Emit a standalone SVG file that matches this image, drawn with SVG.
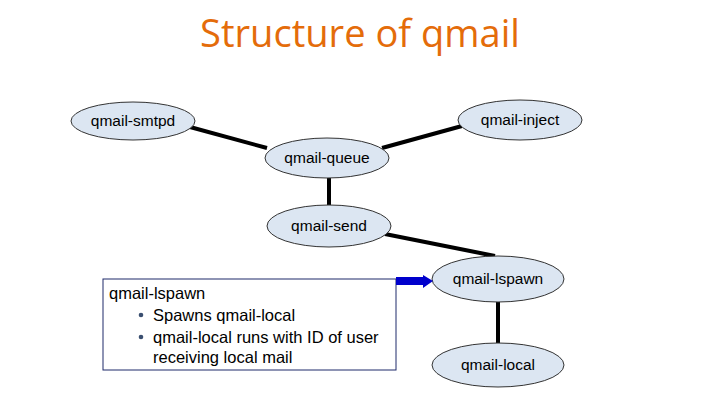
<svg xmlns="http://www.w3.org/2000/svg" width="720" height="405" viewBox="0 0 720 405">
<style>
.node ellipse{fill:#DCE6F2;stroke:#333;stroke-width:1}
.node text{font-family:"Liberation Sans",Arial,sans-serif;font-size:15.5px;fill:#000;text-anchor:middle}
.conn line{stroke:#000;stroke-width:4}
.box text{font-family:"Liberation Sans",Arial,sans-serif;font-size:16.5px;fill:#000}
</style>
<rect width="720" height="405" fill="#fff"/>
<text x="360" y="47" font-family="'Open Sans','Liberation Sans',sans-serif" font-size="38" fill="#E46C0A" text-anchor="middle" textLength="320" lengthAdjust="spacingAndGlyphs">Structure of qmail</text>
<g id="connectors" class="conn">
<line x1="190" y1="127" x2="267" y2="148"/>
<line x1="462" y1="126" x2="382" y2="148"/>
<line x1="329" y1="178" x2="329" y2="205"/>
<line x1="385" y1="234" x2="495" y2="256"/>
<line x1="498" y1="301" x2="498" y2="343"/>
</g>
<g id="qmail-smtpd" class="node"><ellipse cx="133" cy="121" rx="62" ry="19"/><text x="133" y="126">qmail-smtpd</text></g>
<g id="qmail-inject" class="node"><ellipse cx="520" cy="120" rx="62" ry="20"/><text x="520" y="125">qmail-inject</text></g>
<g id="qmail-queue" class="node"><ellipse cx="327" cy="158" rx="62" ry="20"/><text x="327" y="163">qmail-queue</text></g>
<g id="qmail-send" class="node"><ellipse cx="329" cy="226" rx="62" ry="21"/><text x="329" y="231">qmail-send</text></g>
<g id="qmail-lspawn" class="node"><ellipse cx="498" cy="279" rx="66" ry="23"/><text x="498" y="284">qmail-lspawn</text></g>
<g id="qmail-local" class="node"><ellipse cx="498" cy="365" rx="66" ry="22"/><text x="498" y="370">qmail-local</text></g>
<g id="note" class="box">
<rect x="103" y="279" width="293" height="91" fill="#fff" stroke="#1F2A6B" stroke-width="1"/>
<path d="M396 277 H423 V275 L433 281 L423 288 V285 H396 Z" fill="#0000CC"/>
<text x="109" y="299">qmail-lspawn</text>
<circle cx="141" cy="315" r="2.3" fill="#3A4F70"/>
<circle cx="141" cy="337" r="2.3" fill="#3A4F70"/>
<text x="153" y="321">Spawns qmail-local</text>
<text x="153" y="343">qmail-local runs with ID of user</text>
<text x="153" y="363">receiving local mail</text>
</g>
</svg>
